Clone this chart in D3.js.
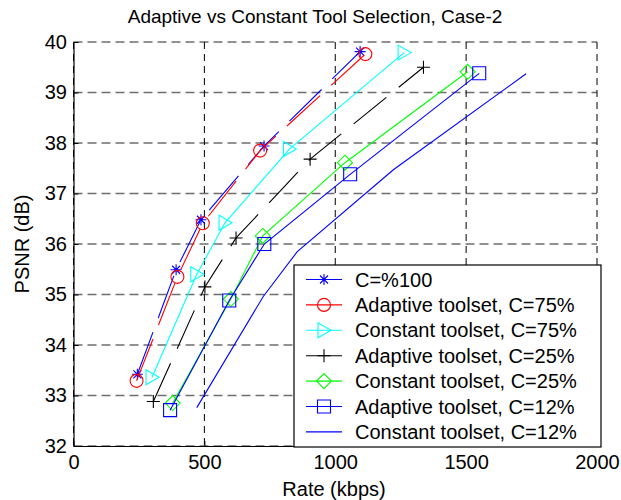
<!DOCTYPE html>
<html lang="en">
<head>
<meta charset="utf-8">
<script src="https://d3js.org/d3.v7.min.js"></script>
<style>
  body { margin: 0; background: #fff; }
  text { font-family: "Liberation Sans", Arial, sans-serif; fill: #000; }
</style>
</head>
<body>
<div id="chart"></div>
<script>
// values (rate in kbps, PSNR in dB)
const rateC100 = [244, 392, 487, 728, 1095];
const psnrC100 = [33.42, 35.49, 36.48, 37.94, 39.81];

const rateAd75 = [241, 397, 494, 713, 1115];
const psnrAd75 = [33.29, 35.35, 36.41, 37.85, 39.76];

const rateCo75 = [300, 471, 579, 825, 1263];
const psnrCo75 = [33.36, 35.40, 36.42, 37.88, 39.79];

const rateAd25 = [305, 502, 621, 904, 1337];
const psnrAd25 = [32.88, 35.15, 36.12, 37.68, 39.50];

const rateCo25 = [379, 601, 723, 1037, 1506];
const psnrCo25 = [32.85, 34.91, 36.16, 37.61, 39.41];

const rateAd12 = [369, 595, 729, 1057, 1550];
const psnrAd12 = [32.71, 34.88, 36.00, 37.38, 39.38];

const rateCo12 = [471, 725, 855, 1222, 1729];
const psnrCo12 = [32.76, 34.96, 35.85, 37.47, 39.37];

const xTicks = [0, 500, 1000, 1500, 2000];
const yTicks = [32, 33, 34, 35, 36, 37, 38, 39, 40];

const series = [
  { name: "C=%100", rate: rateC100, psnr: psnrC100, color: "#0000ff", marker: "star", dash: "45,15" },
  { name: "Adaptive toolset, C=75%", rate: rateAd75, psnr: psnrAd75, color: "#ff0000", marker: "circle", dash: "45,15" },
  { name: "Constant toolset, C=75%", rate: rateCo75, psnr: psnrCo75, color: "#00ffff", marker: "triangle", dash: null },
  { name: "Adaptive toolset, C=25%", rate: rateAd25, psnr: psnrAd25, color: "#000000", marker: "plus", dash: "42,16" },
  { name: "Constant toolset, C=25%", rate: rateCo25, psnr: psnrCo25, color: "#00ff00", marker: "diamond", dash: null },
  { name: "Adaptive toolset, C=12%", rate: rateAd12, psnr: psnrAd12, color: "#0000ff", marker: "square", dash: null },
  { name: "Constant toolset, C=12%", rate: rateCo12, psnr: psnrCo12, color: "#0000ff", marker: null, dash: null }
];

const width = 621, height = 500;
const plot = { left: 73.5, right: 597, top: 42, bottom: 446 };

const svg = d3.select("#chart")
  .append("svg")
  .attr("width", width)
  .attr("height", height);

svg.append("rect").attr("width", width).attr("height", height).attr("fill", "#fff");

const x = d3.scaleLinear().domain([0, 2000]).range([plot.left, plot.right]);
const y = d3.scaleLinear().domain([32, 40]).range([plot.bottom, plot.top]);

// grid
svg.append("g").selectAll("line")
  .data(yTicks)
  .join("line")
  .attr("x1", plot.left).attr("x2", plot.right)
  .attr("y1", d => y(d)).attr("y2", d => y(d))
  .attr("stroke", "#6e6e6e")
  .attr("stroke-width", 1.5)
  .attr("stroke-dasharray", "9,5");

svg.append("g").selectAll("line")
  .data(xTicks)
  .join("line")
  .attr("x1", d => x(d)).attr("x2", d => x(d))
  .attr("y1", plot.top).attr("y2", plot.bottom)
  .attr("stroke", "#000")
  .attr("stroke-width", 1)
  .attr("stroke-dasharray", "7,5");

// axes
const xAxis = svg.append("g")
  .attr("transform", `translate(0,${plot.bottom})`)
  .call(d3.axisBottom(x).tickValues(xTicks).tickFormat(d3.format("d"))
    .tickSizeInner(-5).tickSizeOuter(0).tickPadding(9));

const yAxis = svg.append("g")
  .attr("transform", `translate(${plot.left},0)`)
  .call(d3.axisLeft(y).tickValues(yTicks).tickFormat(d3.format("d"))
    .tickSizeInner(-5).tickSizeOuter(0).tickPadding(6.5));

[xAxis, yAxis].forEach(a => {
  a.select(".domain").attr("stroke", "#000").attr("stroke-width", 1.2);
  a.selectAll(".tick line").attr("stroke", "#000");
  a.selectAll(".tick text")
    .style("font-family", "'Liberation Sans', Arial, sans-serif")
    .style("font-size", "20px")
    .attr("fill", "#000");
});

// marker shapes
function markerPath(type) {
  switch (type) {
    case "star":
      return "M-5.5,0H5.5M0,-5.5V5.5M-4,-4L4,4M-4,4L4,-4";
    case "plus":
      return "M-6.5,0H6.5M0,-6.5V6.5";
    case "triangle":
      return "M-6,-7.5L7,0L-6,7.5Z";
    case "diamond":
      return "M0,-7.5L7.5,0L0,7.5L-7.5,0Z";
    case "square":
      return "M-6.5,-6.5H6.5V6.5H-6.5Z";
  }
  return null;
}

const line = d3.line().x(d => x(d[0])).y(d => y(d[1]));

series.forEach(s => {
  const pts = s.rate.map((r, i) => [r, s.psnr[i]]);
  svg.append("path")
    .datum(pts)
    .attr("d", line)
    .attr("fill", "none")
    .attr("stroke", s.color)
    .attr("stroke-width", 1.1)
    .attr("stroke-dasharray", s.dash);

  if (s.marker === "circle") {
    svg.append("g").selectAll("circle")
      .data(pts)
      .join("circle")
      .attr("cx", d => x(d[0])).attr("cy", d => y(d[1]))
      .attr("r", 6.5)
      .attr("fill", "none")
      .attr("stroke", s.color)
      .attr("stroke-width", 1.1);
  } else if (s.marker) {
    svg.append("g").selectAll("path")
      .data(pts)
      .join("path")
      .attr("transform", d => `translate(${x(d[0])},${y(d[1])})`)
      .attr("d", markerPath(s.marker))
      .attr("fill", "none")
      .attr("stroke", s.color)
      .attr("stroke-width", 1.1);
  }
});

// legend
const legend = svg.append("g");
legend.append("rect")
  .attr("x", 294).attr("y", 265)
  .attr("width", 307).attr("height", 182)
  .attr("fill", "#fff")
  .attr("stroke", "#000")
  .attr("stroke-width", 1.2);

series.forEach((s, i) => {
  const cy = 279.5 + i * 25.4;
  legend.append("line")
    .attr("x1", 306).attr("x2", 342)
    .attr("y1", cy).attr("y2", cy)
    .attr("stroke", s.color)
    .attr("stroke-width", 1.1);
  if (s.marker === "circle") {
    legend.append("circle")
      .attr("cx", 324).attr("cy", cy).attr("r", 6.5)
      .attr("fill", "none").attr("stroke", s.color).attr("stroke-width", 1.1);
  } else if (s.marker) {
    legend.append("path")
      .attr("transform", `translate(324,${cy})`)
      .attr("d", markerPath(s.marker))
      .attr("fill", "none").attr("stroke", s.color).attr("stroke-width", 1.1);
  }
  legend.append("text")
    .attr("x", 355).attr("y", cy + 7)
    .style("font-size", "20px")
    .text(s.name);
});

// titles
svg.append("text")
  .attr("x", 315).attr("y", 23)
  .attr("text-anchor", "middle")
  .style("font-size", "19px")
  .text("Adaptive vs Constant Tool Selection, Case-2");

svg.append("text")
  .attr("x", 334).attr("y", 496)
  .attr("text-anchor", "middle")
  .style("font-size", "20px")
  .text("Rate (kbps)");

svg.append("text")
  .attr("transform", "translate(29,244) rotate(-90)")
  .attr("text-anchor", "middle")
  .style("font-size", "20px")
  .text("PSNR (dB)");
</script>
</body>
</html>
